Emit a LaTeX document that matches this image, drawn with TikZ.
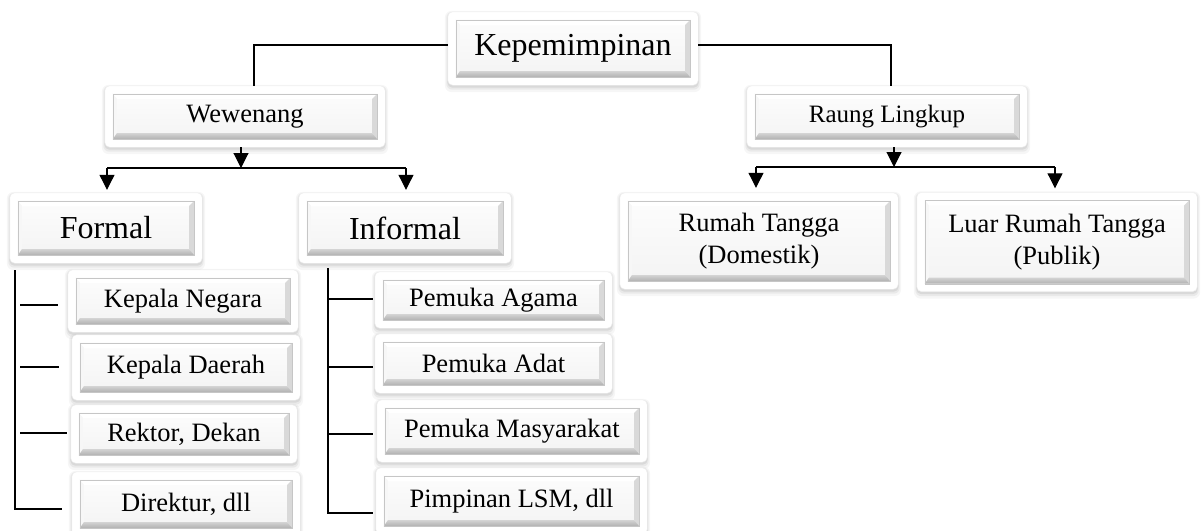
\documentclass[tikz,border=0pt]{standalone}
\usepackage{fontspec}
\setmainfont{Liberation Serif}
\usetikzlibrary{arrows.meta,calc}
\pgfdeclarelayer{bg}
\pgfsetlayers{bg,main}
\newcommand\boxdeco[1]{%
\begin{pgfonlayer}{bg}
\fill[black,opacity=.035,rounded corners=7pt] let \p1=(#1.north west),\p2=(#1.south east) in (\x1-3pt,\y1+1pt) rectangle (\x2+3pt,\y2-7pt);
\fill[black,opacity=.05,rounded corners=6pt] let \p1=(#1.north west),\p2=(#1.south east) in (\x1-1.5pt,\y1) rectangle (\x2+1.5pt,\y2-4.5pt);
\fill[black,opacity=.07,rounded corners=5pt] let \p1=(#1.north west),\p2=(#1.south east) in (\x1-.5pt,\y1-1pt) rectangle (\x2+.5pt,\y2-2.5pt);
\filldraw[fill=white,draw=gray!12,line width=.4pt,rounded corners=5pt] let \p1=(#1.north west),\p2=(#1.south east) in (\x1,\y1) rectangle (\x2,\y2);
\shade[top color=gray!2,bottom color=gray!9] let \p1=($(#1.north west)+(8pt,-8pt)$),\p2=($(#1.south east)+(-8pt,8pt)$) in (\x1,\y1) rectangle (\x2,\y2);
\fill[white] let \p1=($(#1.north west)+(8pt,-8pt)$),\p2=($(#1.south east)+(-8pt,8pt)$) in (\x1,\y1) -- (\x2,\y1) -- (\x2-5pt,\y1-5pt) -- (\x1+4pt,\y1-5pt) -- cycle;
\fill[gray!6] let \p1=($(#1.north west)+(8pt,-8pt)$),\p2=($(#1.south east)+(-8pt,8pt)$) in (\x1,\y1) -- (\x1+4pt,\y1-5pt) -- (\x1+4pt,\y2+6pt) -- (\x1,\y2) -- cycle;
\fill[gray!30] let \p1=($(#1.north west)+(8pt,-8pt)$),\p2=($(#1.south east)+(-8pt,8pt)$) in (\x2,\y1) -- (\x2,\y2) -- (\x2-5pt,\y2+6pt) -- (\x2-5pt,\y1-5pt) -- cycle;
\shade[top color=gray!35,bottom color=gray!62] let \p1=($(#1.north west)+(8pt,-8pt)$),\p2=($(#1.south east)+(-8pt,8pt)$) in (\x1,\y2) -- (\x2,\y2) -- (\x2-5pt,\y2+6pt) -- (\x1+4pt,\y2+6pt) -- cycle;
\draw[gray!45,line width=.4pt] let \p1=($(#1.north west)+(8pt,-8pt)$),\p2=($(#1.south east)+(-8pt,8pt)$) in (\x1,\y1) rectangle (\x2,\y2);
\end{pgfonlayer}}
\begin{document}
\begin{tikzpicture}[x=1pt,y=-1pt,
  bx/.style={rectangle,inner sep=0pt,align=center,text=black},
  big/.style={font=\fontsize{32}{38}\selectfont},
  sm/.style={font=\fontsize{26.5}{32}\selectfont},
  ln/.style={line width=1.1pt,black},
  arr/.style={ln,-{Triangle[width=15pt,length=15pt]}}]
\useasboundingbox (0,0) rectangle (1204,530);
% nodes
\node[bx,big,minimum width=250pt,minimum height=73pt] (kep) at (573,48.5) {Kepemimpinan};
\node[bx,sm,minimum width=280pt,minimum height=61pt] (wew) at (245,116.5) {Wewenang};
\node[bx,font=\fontsize{25}{30}\selectfont,minimum width=280pt,minimum height=61pt] (raung) at (887,116.5) {Raung Lingkup};
\node[bx,big,minimum width=192pt,minimum height=70pt] (formal) at (106,228) {Formal};
\node[bx,big,minimum width=212pt,minimum height=70pt] (informal) at (405,228) {Informal};
\node[bx,sm,minimum width=278pt,minimum height=96pt] (rumah) at (759,241) {Rumah Tangga\\(Domestik)};
\node[bx,sm,minimum width=280pt,minimum height=99pt] (luar) at (1057,242) {Luar Rumah Tangga\\(Publik)};
\node[bx,sm,minimum width=230pt,minimum height=62pt] (kn) at (183,301) {Kepala Negara};
\node[bx,sm,minimum width=228pt,minimum height=65pt] (kd) at (186,367.5) {Kepala Daerah};
\node[bx,sm,minimum width=226pt,minimum height=58pt] (rd) at (184,434) {Rektor, Dekan};
\node[bx,sm,minimum width=228pt,minimum height=64pt] (dir) at (186,504) {Direktur, dll};
\node[bx,sm,minimum width=237pt,minimum height=56pt] (pa) at (493.5,300) {Pemuka Agama};
\node[bx,sm,minimum width=237pt,minimum height=59pt] (pad) at (493.5,363.5) {Pemuka Adat};
\node[bx,sm,minimum width=270pt,minimum height=62pt] (pm) at (512,431) {Pemuka Masyarakat};
\node[bx,sm,minimum width=271pt,minimum height=66pt] (pl) at (511.5,501) {Pimpinan LSM, dll};
\foreach \bname in {kep,wew,raung,formal,informal,rumah,luar,kn,kd,rd,dir,pa,pad,pm,pl} {\boxdeco{\bname}}
% top connectors
\draw[ln] ([yshift=3.5pt]kep.west) -| ([xshift=9pt]wew.north);
\draw[ln] ([yshift=3.5pt]kep.east) -| ([xshift=4pt]raung.north);
% wewenang branch
\coordinate (wj) at (241,168);
\coordinate (wl) at (107,168);
\coordinate (wr) at (406,168);
\draw[arr] ([xshift=-4pt]wew.south) -- (wj);
\draw[ln] (wl) -- (wr);
\draw[arr,shorten >=3pt] (wl) -- (wl |- formal.north);
\draw[arr,shorten >=3pt] (wr) -- (wr |- informal.north);
% raung branch
\coordinate (rj) at (894,167);
\coordinate (rl) at (756,167);
\coordinate (rr) at (1055,167);
\draw[arr] ([xshift=7pt]raung.south) -- (rj);
\draw[ln] (rl) -- (rr);
\draw[arr,shorten >=5pt] (rl) -- (rl |- rumah.north);
\draw[arr,shorten >=4pt] (rr) -- (rr |- luar.north);
% formal bracket
\coordinate (ft) at (15,270);
\coordinate (fb) at (15,509);
\coordinate (f1) at (20,305);
\coordinate (f2) at (20,367);
\coordinate (f3) at (20,433);
\draw[ln] (ft) -- (fb) -- ([xshift=-10pt]dir.west |- fb);
\draw[ln] (f1) -- ([xshift=-10pt]kn.west |- f1);
\draw[ln] (f2) -- ([xshift=-13pt]kd.west |- f2);
\draw[ln] (f3) -- ([xshift=-4pt]rd.west |- f3);
% informal bracket
\coordinate (it) at (328,268);
\coordinate (ib) at (328,513);
\coordinate (i1) at (328,299);
\coordinate (i2) at (328,367);
\coordinate (i3) at (328,434);
\draw[ln] (it) -- (ib) -- ([xshift=-3pt]pl.west |- ib);
\draw[ln] (i1) -- ([xshift=-2pt]pa.west |- i1);
\draw[ln] (i2) -- ([xshift=-2pt]pad.west |- i2);
\draw[ln] (i3) -- ([xshift=-4pt]pm.west |- i3);
\end{tikzpicture}
\end{document}
